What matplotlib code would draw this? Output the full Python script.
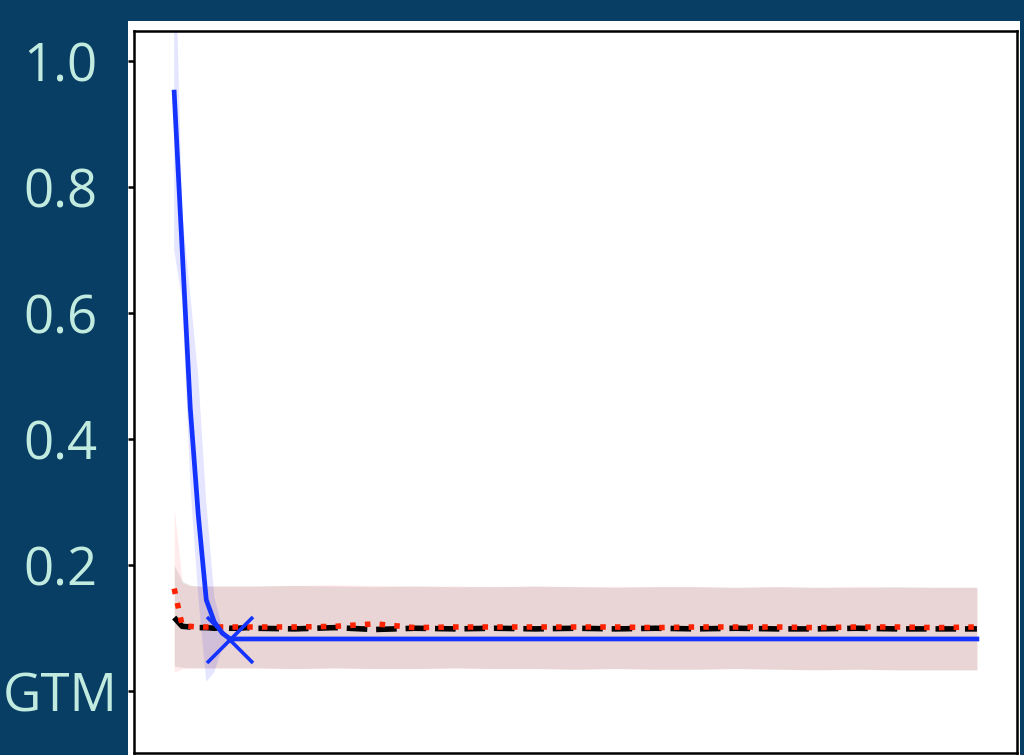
import matplotlib.pyplot as plt
from matplotlib.patches import Rectangle

# training steps (dense at the start, sparse once things settle)
steps = [0, 1, 2, 3, 4, 5, 6, 7, 8, 9, 10,
         15, 20, 25, 30, 35, 40, 45, 50, 55, 60, 65, 70, 75, 80, 85, 90, 95, 100]

# blue run: mean and spread
blue_mean = [0.951, 0.70, 0.45, 0.28, 0.145, 0.11, 0.092, 0.083, 0.083, 0.083, 0.083,
             0.083, 0.083, 0.083, 0.083, 0.083, 0.083, 0.083, 0.083, 0.083, 0.083,
             0.083, 0.083, 0.083, 0.083, 0.083, 0.083, 0.083, 0.083]
blue_hi = [1.25, 0.76, 0.63, 0.50, 0.30, 0.15, 0.10, 0.083, 0.083, 0.083, 0.083,
           0.083, 0.083, 0.083, 0.083, 0.083, 0.083, 0.083, 0.083, 0.083, 0.083,
           0.083, 0.083, 0.083, 0.083, 0.083, 0.083, 0.083, 0.083]
blue_lo = [0.70, 0.62, 0.33, 0.15, 0.015, 0.03, 0.07, 0.083, 0.083, 0.083, 0.083,
           0.083, 0.083, 0.083, 0.083, 0.083, 0.083, 0.083, 0.083, 0.083, 0.083,
           0.083, 0.083, 0.083, 0.083, 0.083, 0.083, 0.083, 0.083]

# black dashed run
black_mean = [0.117, 0.103, 0.102, 0.101, 0.101, 0.100, 0.101, 0.100, 0.100, 0.101, 0.100,
              0.099, 0.101, 0.098, 0.100, 0.099, 0.100, 0.099, 0.100, 0.099, 0.100,
              0.099, 0.100, 0.099, 0.099, 0.100, 0.099, 0.099, 0.099]
black_hi = [0.20, 0.175, 0.168, 0.167, 0.167, 0.167, 0.167, 0.167, 0.167, 0.167, 0.167,
            0.168, 0.167, 0.166, 0.167, 0.166, 0.166, 0.167, 0.166, 0.165, 0.166,
            0.166, 0.165, 0.166, 0.165, 0.165, 0.166, 0.165, 0.165]
black_lo = [0.040, 0.038, 0.037, 0.037, 0.037, 0.037, 0.037, 0.037, 0.037, 0.037, 0.037,
            0.036, 0.037, 0.036, 0.036, 0.037, 0.036, 0.036, 0.035, 0.036, 0.035,
            0.035, 0.036, 0.035, 0.034, 0.035, 0.034, 0.034, 0.034]

# red dotted run
red_mean = [0.163, 0.104, 0.103, 0.102, 0.102, 0.102, 0.102, 0.102, 0.102, 0.102, 0.102,
            0.102, 0.103, 0.107, 0.101, 0.102, 0.102, 0.102, 0.102, 0.102, 0.101,
            0.102, 0.102, 0.102, 0.101, 0.102, 0.102, 0.101, 0.102]
red_hi = [0.29, 0.172, 0.168, 0.167, 0.167, 0.167, 0.167, 0.167, 0.167, 0.167, 0.167,
          0.168, 0.169, 0.168, 0.167, 0.167, 0.166, 0.167, 0.166, 0.166, 0.166,
          0.166, 0.165, 0.166, 0.165, 0.166, 0.165, 0.165, 0.165]
red_lo = [0.030, 0.036, 0.037, 0.037, 0.037, 0.037, 0.037, 0.037, 0.037, 0.037, 0.037,
          0.036, 0.037, 0.036, 0.036, 0.037, 0.036, 0.036, 0.035, 0.036, 0.035,
          0.035, 0.036, 0.035, 0.034, 0.035, 0.034, 0.034, 0.034]

# best point of the blue run
best_step = [7]
best_loss = [0.082]

ytick_vals = [0.0, 0.2, 0.4, 0.6, 0.8, 1.0]
ytick_labels = ['GTM', '0.2', '0.4', '0.6', '0.8', '1.0']

navy = '#083d64'
mint = '#c2ebe0'
blue = '#1433ff'
red = '#ff2200'

fig = plt.figure(figsize=(10.24, 7.55), dpi=100, facecolor=navy)
# white card behind the plot area
fig.patches.append(Rectangle((0.125, 0.0), 0.871, 0.9722, transform=fig.transFigure,
                             facecolor='white', edgecolor='none', zorder=-10))
ax = fig.add_axes([0.1309, 0.00265, 0.8623, 0.9563])
ax.set_zorder(1)

ax.fill_between(steps, black_lo, black_hi, color='black', alpha=0.09, linewidth=0)
ax.fill_between(steps, red_lo, red_hi, color='red', alpha=0.08, linewidth=0)
ax.fill_between(steps, blue_lo, blue_hi, color='blue', alpha=0.1, linewidth=0)

ax.plot(steps, black_mean, color='black', linestyle='--', linewidth=4)
ax.plot(steps, red_mean, color=red, linestyle=':', linewidth=4)
ax.plot(steps, blue_mean, color=blue, linewidth=3.4)
ax.plot(best_step, best_loss, linestyle='none', marker='x', color=blue,
        markersize=33, markeredgewidth=2.6)

ax.set_xlim(-5, 105)
ax.set_ylim(-0.098, 1.048)
ax.set_xticks([])
ax.set_yticks(ytick_vals)
ax.set_yticklabels(ytick_labels, fontfamily='Open Sans')
ax.tick_params(axis='y', length=4.3, width=1.8, pad=49, labelsize=38, labelcolor=mint)
for lbl in ax.get_yticklabels():
    lbl.set_horizontalalignment('center')
for s in ax.spines.values():
    s.set_linewidth(1.8)

fig.savefig('out.png', dpi=100, facecolor=navy)
